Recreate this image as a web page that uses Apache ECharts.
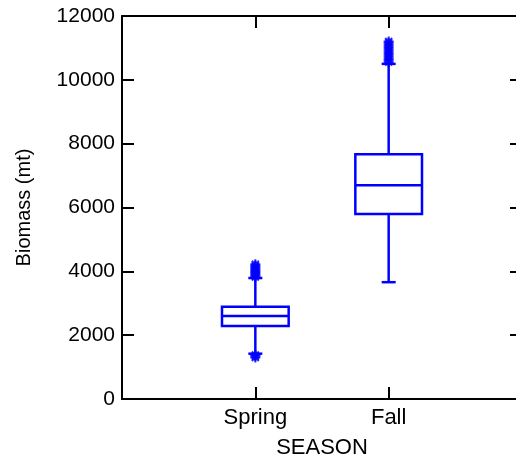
<!DOCTYPE html>
<html>
<head>
<meta charset="utf-8">
<script src="https://cdn.jsdelivr.net/npm/echarts@6/dist/echarts.min.js"></script>
<style>
html, body { margin: 0; padding: 0; background: #fff; }
#main { width: 516px; height: 459px; }
</style>
</head>
<body>
<div id="main"></div>
<script>
var seasons = ['Spring', 'Fall'];
// [low whisker, q1, median, q3, high whisker]
var boxes = [
    [1420, 2290, 2600, 2890, 3790],
    [3660, 5800, 6700, 7670, 10500]
];
var outliers = [
    [3820, 3860, 3900, 3940, 3980, 4020, 4060, 4100, 4140, 4180, 4220, 1380, 1340, 1300],
    [10560, 10620, 10680, 10740, 10800, 10860, 10920, 10980, 11040, 11100, 11160, 11200]
];
var yTicks = [0, 2000, 4000, 6000, 8000, 10000, 12000];

var myChart = echarts.init(document.getElementById('main'));
var blue = '#0000ff';
var font = 'Liberation Sans';

var boxData = boxes.map(function (b, i) { return [i + 1].concat(b); });
var outData = [];
outliers.forEach(function (list, i) {
    list.forEach(function (v) { outData.push([i + 1, v]); });
});

function frameAxis(extra) {
    return Object.assign({
        type: 'value',
        splitLine: { show: false },
        axisLine: { show: true, onZero: false, lineStyle: { color: '#000', width: 2 } },
        axisTick: { show: true, inside: true, length: 12, lineStyle: { color: '#000', width: 2 } }
    }, extra);
}

option = {
    animation: false,
    grid: { left: 122, right: -6, top: 16, bottom: 60, outerBoundsMode: 'none', containLabel: false },
    xAxis: [
        frameAxis({
            position: 'bottom',
            min: 0, max: 3, interval: 1,
            name: 'SEASON',
            nameLocation: 'middle',
            nameGap: 38,
            nameTextStyle: { fontSize: 22, fontFamily: font, color: '#000' },
            axisLabel: {
                fontSize: 22, fontFamily: font, color: '#000', margin: 8,
                formatter: function (v) { return seasons[v - 1] || ''; }
            }
        }),
        frameAxis({
            position: 'top',
            min: 0, max: 3, interval: 1,
            axisLabel: { show: false }
        })
    ],
    yAxis: [
        frameAxis({
            position: 'left',
            min: yTicks[0], max: yTicks[yTicks.length - 1], interval: 2000,
            name: 'Biomass (mt)',
            nameLocation: 'middle',
            nameGap: 88,
            nameTextStyle: { fontSize: 20, fontFamily: font, color: '#000' },
            axisLabel: {
                fontSize: 21, fontFamily: font, color: '#000', margin: 7,
                formatter: function (v) { return String(v); }
            }
        }),
        frameAxis({
            position: 'right',
            min: yTicks[0], max: yTicks[yTicks.length - 1], interval: 2000,
            axisLabel: { show: false }
        })
    ],
    series: [
        {
            type: 'custom',
            xAxisIndex: 0,
            yAxisIndex: 0,
            data: boxData,
            renderItem: function (params, api) {
                var x = api.value(0);
                var half = api.size([0.5, 0])[0] / 2;
                var cap = 7;
                var lo = api.coord([x, api.value(1)]);
                var q1 = api.coord([x, api.value(2)]);
                var md = api.coord([x, api.value(3)]);
                var q3 = api.coord([x, api.value(4)]);
                var hi = api.coord([x, api.value(5)]);
                var st = { stroke: blue, lineWidth: 2.5, fill: 'none' };
                var cx = lo[0];
                return {
                    type: 'group',
                    children: [
                        { type: 'rect', shape: { x: cx - half, y: q3[1], width: half * 2, height: q1[1] - q3[1] }, style: st },
                        { type: 'line', shape: { x1: cx - half, y1: md[1], x2: cx + half, y2: md[1] }, style: st },
                        { type: 'line', shape: { x1: cx, y1: q3[1], x2: cx, y2: hi[1] }, style: st },
                        { type: 'line', shape: { x1: cx, y1: q1[1], x2: cx, y2: lo[1] }, style: st },
                        { type: 'line', shape: { x1: cx - cap, y1: hi[1], x2: cx + cap, y2: hi[1] }, style: st },
                        { type: 'line', shape: { x1: cx - cap, y1: lo[1], x2: cx + cap, y2: lo[1] }, style: st }
                    ]
                };
            }
        },
        {
            type: 'scatter',
            xAxisIndex: 0,
            yAxisIndex: 0,
            data: outData,
            symbol: 'path://M0,-1L0,1M-1,0L1,0M-0.7,-0.7L0.7,0.7M-0.7,0.7L0.7,-0.7',
            symbolSize: 10,
            itemStyle: { color: 'none', borderColor: blue, borderWidth: 2 }
        }
    ]
};
myChart.setOption(option);
</script>
</body>
</html>
